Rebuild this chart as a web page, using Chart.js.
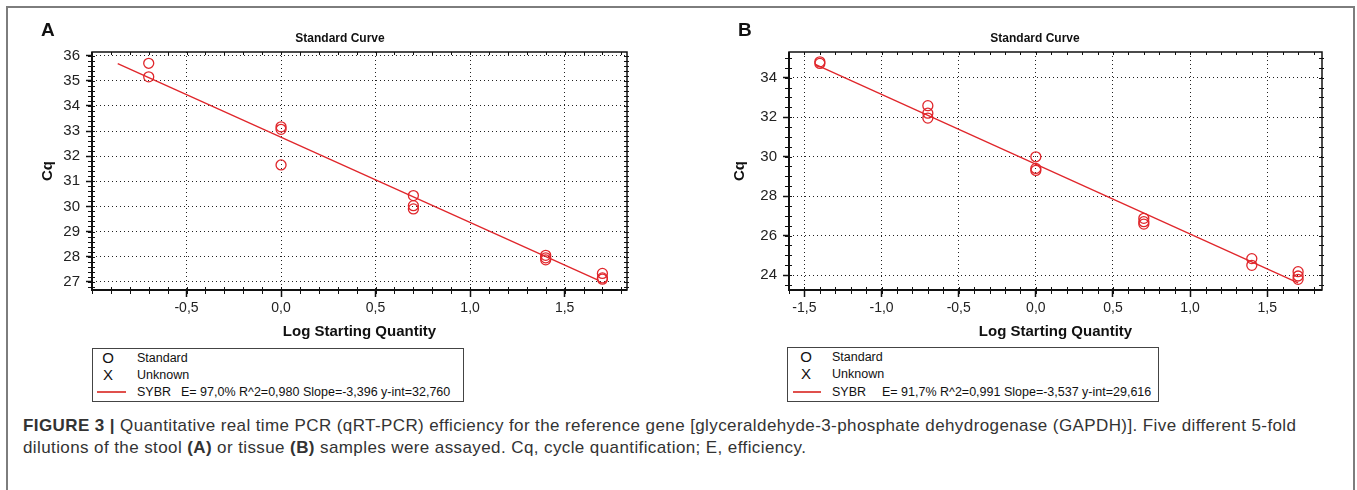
<!DOCTYPE html>
<html>
<head>
<meta charset="utf-8">
<script src="https://cdn.jsdelivr.net/npm/chart.js@4.4.0/dist/chart.umd.min.js"></script>
<style>
  body { margin: 0; width: 1357px; height: 490px; overflow: hidden; position: relative; background: #fff;
         font-family: "Liberation Sans", Arial, sans-serif; color: #222; }
  .frame { position: absolute; left: 6px; top: 6px; width: 1349px; height: 520px; border: 2px solid #7d7d7d; box-sizing: border-box; }
  canvas { position: absolute; top: 0; }
  .panel { position: absolute; top: 19px; font-weight: bold; font-size: 19px; color: #111; }
  .ttl { position: absolute; top: 31px; transform: translateX(-50%); font: bold 12px "Liberation Sans Narrow", "Arial Narrow", sans-serif; color: #111; white-space: nowrap; }
  .legend { position: absolute; border: 1.5px solid #444; box-sizing: border-box; font: 12.5px "Liberation Sans Narrow", "Arial Narrow", sans-serif; color: #111; }
  .legend span { position: absolute; white-space: nowrap; line-height: 14px; }
  .legend .sym { font: 15px "Liberation Sans", Arial, sans-serif; transform: translateX(-50%); line-height: 14px; }
  .legend .ln { position: absolute; height: 2px; background: #e0504c; }
  .caption { position: absolute; left: 23px; top: 415px; font-size: 17px; letter-spacing: 0.4px; line-height: 22px; color: #333; white-space: nowrap; }
</style>
</head>
<body>
<div class="frame"></div>
<canvas id="stool" width="680" height="345" style="left:0;width:680px;height:345px"></canvas>
<canvas id="tissue" width="677" height="345" style="left:680px;width:677px;height:345px"></canvas>
<div class="panel" style="left:41px">A</div>
<div class="panel" style="left:738px">B</div>
<div class="ttl" style="left:340px">Standard Curve</div>
<div class="ttl" style="left:1035px">Standard Curve</div>

<div class="legend" style="left:92px;top:348px;width:372px;height:54px">
  <span class="sym" style="left:15px;top:2px">O</span><span style="left:44px;top:2px">Standard</span>
  <span class="sym" style="left:15px;top:19px">X</span><span style="left:44px;top:19px">Unknown</span>
  <div class="ln" style="left:4px;width:29px;top:42px"></div>
  <span style="left:44px;top:36px">SYBR</span><span style="left:88px;top:36px">E= 97,0% R^2=0,980 Slope=-3,396 y-int=32,760</span>
</div>
<div class="legend" style="left:787px;top:347px;width:372px;height:55px">
  <span class="sym" style="left:18px;top:2px">O</span><span style="left:44px;top:2px">Standard</span>
  <span class="sym" style="left:18px;top:19px">X</span><span style="left:44px;top:19px">Unknown</span>
  <div class="ln" style="left:5px;width:28px;top:43px"></div>
  <span style="left:44px;top:37px">SYBR</span><span style="left:94px;top:37px">E= 91,7% R^2=0,991 Slope=-3,537 y-int=29,616</span>
</div>

<div class="caption"><b>FIGURE 3 |</b> Quantitative real time PCR (qRT-PCR) efficiency for the reference gene [glyceraldehyde-3-phosphate dehydrogenase (GAPDH)]. Five different 5-fold<br>dilutions of the stool <b>(A)</b> or tissue <b>(B)</b> samples were assayed. Cq, cycle quantification; E, efficiency.</div>

<script>
// panel A - stool
var stoolLog = [-0.7, -0.7, 0, 0, 0, 0.7, 0.7, 0.7, 1.4, 1.4, 1.4, 1.7, 1.7, 1.7];
var stoolCq  = [35.70, 35.16, 33.17, 33.07, 31.65, 30.43, 30.03, 29.90, 28.05, 27.95, 27.87, 27.33, 27.15, 27.10];
var stoolFitLog = [-0.864, 1.68];
var stoolFitCq  = [35.69, 27.05];
var stoolXTicks = [-0.5, 0, 0.5, 1.0, 1.5];
var stoolYTicks = [27, 28, 29, 30, 31, 32, 33, 34, 35, 36];

// panel B - tissue
var tissueLog = [-1.4, -1.4, -0.7, -0.7, -0.7, 0, 0, 0, 0.7, 0.7, 0.7, 1.4, 1.4, 1.7, 1.7, 1.7];
var tissueCq  = [34.80, 34.72, 32.58, 32.20, 31.95, 29.99, 29.40, 29.30, 26.87, 26.70, 26.58, 24.83, 24.49, 24.17, 23.95, 23.78];
var tissueFitLog = [-1.43, 1.70];
var tissueFitCq  = [34.67, 23.60];
var tissueXTicks = [-1.5, -1.0, -0.5, 0, 0.5, 1.0, 1.5];
var tissueYTicks = [24, 26, 28, 30, 32, 34];

var NARROW = '"Liberation Sans Narrow", "Arial Narrow", sans-serif';
var RED = '#e0262b';

function pts(xs, ys) {
  return xs.map(function (x, i) { return {x: x, y: ys[i]}; });
}

// minor ticks on all four sides plus the solid plot frame
var frameTicks = {
  id: 'frameTicks',
  afterDraw: function (chart, args, opts) {
    var ctx = chart.ctx, a = chart.chartArea, x = chart.scales.x, y = chart.scales.y;
    ctx.save();
    ctx.strokeStyle = '#111';
    ctx.lineWidth = 1;
    ctx.beginPath();
    var i, p;
    for (i = Math.ceil(x.min / opts.xStep - 1e-6); i * opts.xStep <= x.max + 1e-6; i++) {
      p = Math.round(x.getPixelForValue(i * opts.xStep)) + 0.5;
      ctx.moveTo(p, a.bottom - 3); ctx.lineTo(p, a.bottom + 4);
      ctx.moveTo(p, a.top); ctx.lineTo(p, a.top + 3);
    }
    for (i = Math.ceil(y.min / opts.yStep - 1e-6); i * opts.yStep <= y.max + 1e-6; i++) {
      p = Math.round(y.getPixelForValue(i * opts.yStep)) + 0.5;
      ctx.moveTo(a.left - 4, p); ctx.lineTo(a.left + 3, p);
      ctx.moveTo(a.right - 3, p); ctx.lineTo(a.right + 2, p);
    }
    ctx.stroke();
    ctx.lineWidth = 1.5;
    ctx.strokeRect(a.left, a.top, a.right - a.left, a.bottom - a.top);
    ctx.lineWidth = 2;
    ctx.beginPath();
    ctx.moveTo(a.left, a.top); ctx.lineTo(a.left, a.bottom); ctx.lineTo(a.right, a.bottom);
    ctx.stroke();
    ctx.restore();
  }
};

function makeChart(id, o) {
  return new Chart(document.getElementById(id), {
    type: 'scatter',
    data: {
      datasets: [{
        data: pts(o.fitX, o.fitY),
        showLine: true,
        borderColor: RED,
        borderWidth: 1.3,
        pointRadius: 0
      }, {
        data: pts(o.xs, o.ys),
        pointStyle: 'circle',
        pointRadius: 5,
        borderColor: RED,
        borderWidth: 1.3,
        backgroundColor: 'rgba(0,0,0,0)'
      }]
    },
    options: {
      responsive: false,
      animation: false,
      layout: { padding: { left: 0, right: o.padRight, top: 52, bottom: 0 } },
      plugins: {
        legend: { display: false },
        tooltip: { enabled: false },
        frameTicks: { xStep: 0.1, yStep: o.yStep }
      },
      scales: {
        x: {
          type: 'linear',
          min: o.xMin, max: o.xMax,
          afterBuildTicks: function (s) { s.ticks = o.xTicks.map(function (v) { return {value: v}; }); },
          afterFit: function (s) { s.height = 55; },
          ticks: {
            padding: 3,
            color: '#222',
            font: { family: NARROW, size: 14 },
            callback: function (v) { return v.toFixed(1).replace('.', ','); }
          },
          grid: { color: '#222', lineWidth: 1, tickLength: 7, tickColor: '#111', tickWidth: 1.5 },
          border: { display: false, dash: [1, 3] },
          title: { display: true, text: 'Log Starting Quantity', color: '#111',
                   font: { family: NARROW, size: 15, weight: 'bold' }, padding: { top: 0, bottom: 4 } }
        },
        y: {
          type: 'linear',
          min: o.yMin, max: o.yMax,
          afterBuildTicks: function (s) { s.ticks = o.yTicks.map(function (v) { return {value: v}; }); },
          afterFit: function (s) { s.width = o.yWidth; },
          ticks: {
            padding: 6,
            color: '#222',
            font: { family: NARROW, size: 15 },
            callback: function (v) { return String(v); }
          },
          grid: { color: '#222', lineWidth: 1, tickLength: 6, tickColor: '#111', tickWidth: 1.5 },
          border: { display: false, dash: [1, 3] },
          title: { display: true, text: 'Cq', color: '#111',
                   font: { family: NARROW, size: 15, weight: 'bold' }, padding: { top: o.cqPad, bottom: 0 } }
        }
      }
    },
    plugins: [frameTicks]
  });
}

makeChart('stool', {
  xs: stoolLog, ys: stoolCq, fitX: stoolFitLog, fitY: stoolFitCq,
  xTicks: stoolXTicks, yTicks: stoolYTicks,
  xMin: -1.0, xMax: 1.83, yMin: 26.67, yMax: 36.15, yStep: 0.2,
  padRight: 53, yWidth: 92, cqPad: 39
});

makeChart('tissue', {
  xs: tissueLog, ys: tissueCq, fitX: tissueFitLog, fitY: tissueFitCq,
  xTicks: tissueXTicks, yTicks: tissueYTicks,
  xMin: -1.6, xMax: 1.855, yMin: 23.24, yMax: 35.3, yStep: 0.5,
  padRight: 35, yWidth: 109, cqPad: 51
});
</script>
</body>
</html>
